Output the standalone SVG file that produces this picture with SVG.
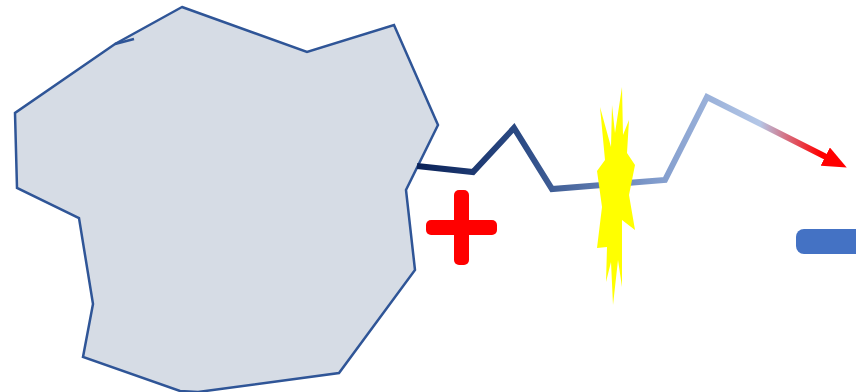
<svg xmlns="http://www.w3.org/2000/svg" width="856" height="392" viewBox="0 0 856 392">
<defs>
<linearGradient id="lg" gradientUnits="userSpaceOnUse" x1="416" y1="0" x2="846" y2="0">
<stop offset="0" stop-color="#0a2258"/>
<stop offset="0.25" stop-color="#2d4c86"/>
<stop offset="0.55" stop-color="#7f9acb"/>
<stop offset="0.8" stop-color="#b4c7e7"/>
<stop offset="0.94" stop-color="#ff0000"/>
<stop offset="1" stop-color="#ff0000"/>
</linearGradient>
<marker id="ah" viewBox="0 0 10 10" refX="5" refY="5" markerWidth="4" markerHeight="3.4" orient="auto" markerUnits="strokeWidth" preserveAspectRatio="none">
<path d="M0,0 L10,5 L0,10 Z" fill="#ff0000"/>
</marker>
<style>
.shape{fill:#d6dce5;stroke:#2f5597;stroke-width:2.5;stroke-linejoin:miter}
.conn{fill:none;stroke:url(#lg);stroke-width:6;stroke-linejoin:miter}
</style>
</defs>
<g id="blob">
<polygon class="shape" points="182,7 307,52 394,25 438,125 406,190 415,270 339,373 198,392 180,391 83,357 93,304 79,218 17,188 15,113 115,44"/>
<path d="M115,44 L134,39" fill="none" stroke="#2f5597" stroke-width="2.5"/>
</g>
<g id="connectors">
<polyline class="conn" points="417,166 473,172 514,128 552,189 665,180 707,97 836,162" marker-end="url(#ah)"/>
</g>
<g id="plus">
<rect x="454" y="190" width="15" height="75" rx="5" fill="#ff0000"/>
<rect x="426" y="220" width="71" height="15" rx="5" fill="#ff0000"/>
</g>
<g id="burst">
<polygon fill="#ffff00" points="597,171 605,160 600,107 611,147 612,105 615,133 622,87 623,135 629,120 627,153 635,165 629,195 635,230 622,220 622,287 618,260 613,305 611,262 606,282 607,247 597,248 602,207"/>
</g>
<g id="bar">
<rect x="796" y="229" width="80" height="25" rx="8" fill="#4472c4"/>
</g>
</svg>
